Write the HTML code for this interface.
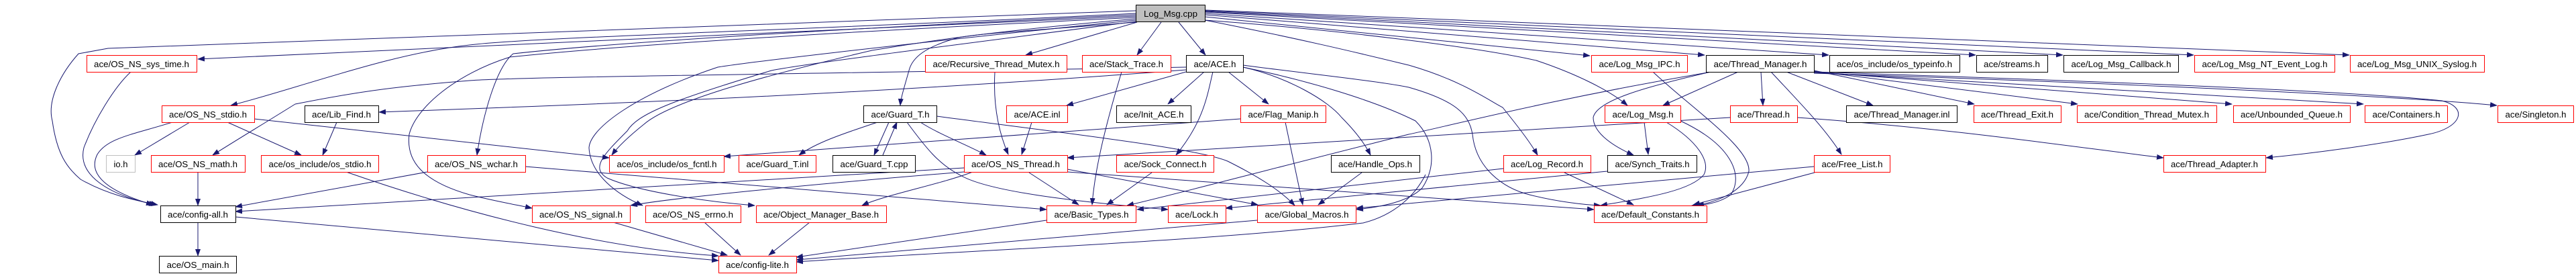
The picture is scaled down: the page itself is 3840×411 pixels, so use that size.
<!DOCTYPE html>
<html><head><meta charset="utf-8"><style>
html,body{margin:0;padding:0;background:#fff;}
svg{display:block;}
text{font-family:"Liberation Sans",sans-serif;font-size:13px;fill:#000;}
</style></head><body>
<svg width="3840" height="411" viewBox="0 0 3840 411" xmlns="http://www.w3.org/2000/svg">
<defs><marker id="a" markerWidth="11" markerHeight="8" refX="10" refY="4" orient="auto" markerUnits="userSpaceOnUse"><path d="M0,0 L11,4 L0,8z" fill="#191970"/></marker></defs>
<g fill="none" stroke="#191970" stroke-width="1" marker-end="url(#a)">
<path d="M1693,24 L295,88"/>
<path d="M1693,16 C1000,40 300,65 161,72 L117,80 C90,110 70,150 78,180 C85,230 100,250 120,267 C160,290 200,298 235,305"/>
<path d="M195,107 C170,130 140,180 125,220 C115,260 160,290 232,305"/>
<path d="M1693,20 C1200,45 800,55 700,67 C580,80 450,130 344,157"/>
<path d="M1768,100 C1200,110 750,115 700,120 C600,128 540,135 440,155 C400,180 350,210 317,231"/>
<path d="M1768,104 C1300,140 900,155 565,167"/>
<path d="M283,182 L201,231"/>
<path d="M257,182 C200,200 160,205 145,230 C130,260 160,285 228,305"/>
<path d="M339,182 L449,231"/>
<path d="M379,177 L908,235"/>
<path d="M502,182 L481,231"/>
<path d="M295,256 L295,306"/>
<path d="M516,256 C700,320 900,370 1071,381"/>
<path d="M637,256 L351,308"/>
<path d="M295,331 L295,381"/>
<path d="M351,323 L1071,388"/>
<path d="M1693,26 C1200,50 900,70 760,85 C680,110 620,160 610,200 C605,240 630,270 700,290 C740,300 770,305 793,310"/>
<path d="M1693,22 C1200,45 900,65 765,80 C740,100 720,170 711,231"/>
<path d="M783,248 L1560,312"/>
<path d="M1693,28 C1500,45 1400,58 1300,75 C1150,110 1000,150 960,185 C935,205 920,220 912,231"/>
<path d="M1693,30 C1300,70 1100,95 1070,100 C950,140 880,190 878,220 C880,260 920,290 958,306"/>
<path d="M1450,256 C1400,275 1320,290 1285,306"/>
<path d="M1693,32 C1400,70 1200,95 1150,105 C1000,150 950,170 935,195 C900,230 880,250 905,265 C950,285 1050,300 1125,306"/>
<path d="M1693,33 C1550,45 1450,50 1425,57 C1380,70 1360,85 1355,105 C1348,130 1343,145 1342,157"/>
<path d="M1308,182 C1270,195 1220,210 1191,231"/>
<path d="M1325,182 L1303,231"/>
<path d="M1316,231 L1337,182"/>
<path d="M1352,182 C1380,220 1400,245 1430,260 C1470,285 1600,300 1741,312"/>
<path d="M1372,182 C1400,200 1440,215 1470,231"/>
<path d="M1396,173 C1600,200 1780,220 1830,240 C1880,265 1910,285 1930,306"/>
<path d="M1849,177 L1079,233"/>
<path d="M1695,33 L1529,82"/>
<path d="M1731,33 L1695,82"/>
<path d="M1757,33 L1797,82"/>
<path d="M1796,25 L2370,83"/>
<path d="M1796,22 L2541,82"/>
<path d="M1796,20 L2726,82"/>
<path d="M1796,18 L2945,82"/>
<path d="M1796,17 L3075,82"/>
<path d="M1796,16 L3270,82"/>
<path d="M1796,15 L3502,82"/>
<path d="M1796,30 C2000,45 2200,70 2290,90 C2350,110 2400,135 2426,157"/>
<path d="M1796,30 C1950,60 2050,85 2100,97 C2180,120 2220,150 2240,160 C2260,185 2280,210 2292,231"/>
<path d="M1853,97 C1950,110 2050,120 2100,130 C2170,150 2190,170 2195,200 C2200,250 2240,280 2280,290 C2320,300 2360,305 2386,306"/>
<path d="M1853,100 C1950,120 2050,150 2110,180 C2140,210 2140,250 2120,280 C2100,300 2060,308 2022,312"/>
<path d="M1853,100 C1920,115 1980,150 2000,175 C2020,195 2035,215 2043,231"/>
<path d="M1768,107 L1590,157"/>
<path d="M1795,107 L1741,155"/>
<path d="M1831,107 L1891,155"/>
<path d="M1808,107 C1800,140 1795,180 1753,231"/>
<path d="M1538,182 L1523,230"/>
<path d="M1483,107 C1480,160 1490,200 1503,230"/>
<path d="M1672,107 C1650,180 1632,250 1628,305"/>
<path d="M1534,257 L1608,305"/>
<path d="M1717,257 L1650,305"/>
<path d="M1591,252 L1875,305"/>
<path d="M1591,256 L2376,312"/>
<path d="M1437,250 L351,315"/>
<path d="M1437,256 C1200,275 1000,295 940,306"/>
<path d="M2396,255 L1827,310"/>
<path d="M2551,107 C2300,150 2150,190 2100,200 C1900,250 1750,290 1680,306"/>
<path d="M2241,251 L1695,312"/>
<path d="M2704,248 L2022,310"/>
<path d="M2484,182 C2530,210 2550,240 2540,260 C2520,285 2450,295 2386,306"/>
<path d="M2505,180 C2580,215 2600,260 2580,290 C2560,305 2530,306 2522,306"/>
<path d="M2464,107 C2520,160 2610,220 2607,255 C2600,285 2560,300 2530,306"/>
<path d="M2451,182 L2457,230"/>
<path d="M2550,107 C2450,130 2380,150 2375,175 C2375,200 2410,220 2435,231"/>
<path d="M2591,107 L2479,157"/>
<path d="M2625,107 L2628,157"/>
<path d="M2640,107 C2680,150 2720,190 2745,230"/>
<path d="M2663,107 L2792,157"/>
<path d="M2704,105 L2943,155"/>
<path d="M2704,106 L3097,155"/>
<path d="M2704,107 L3327,155"/>
<path d="M2704,108 L3523,155"/>
<path d="M2704,109 C3200,125 3600,145 3722,157"/>
<path d="M2704,107 C3100,120 3500,135 3640,150 C3680,160 3670,190 3620,200 C3550,215 3450,228 3378,235"/>
<path d="M2679,175 C2900,190 3100,220 3225,235"/>
<path d="M2579,175 L1591,235"/>
<path d="M2332,257 L2435,305"/>
<path d="M2705,257 L2524,305"/>
<path d="M1916,182 L1942,305"/>
<path d="M2030,257 L1965,305"/>
<path d="M1560,328 L1187,383"/>
<path d="M1874,328 L1187,387"/>
<path d="M2125,260 C2110,290 2080,320 2032,332 C1800,360 1400,375 1187,390"/>
<path d="M914,331 L1084,380"/>
<path d="M1050,331 L1104,380"/>
<path d="M1207,331 L1146,380"/>
</g>
<g stroke-width="1">
<rect x="1693.5" y="7.5" width="103" height="25" fill="#bfbfbf" stroke="#000"/><text x="1745" y="25" text-anchor="middle" textLength="80" lengthAdjust="spacingAndGlyphs">Log_Msg.cpp</text>

<rect x="129.5" y="82.5" width="164" height="25" fill="#fff" stroke="#f00"/><text x="211" y="100" text-anchor="middle" textLength="142" lengthAdjust="spacingAndGlyphs">ace/OS_NS_sys_time.h</text>
<rect x="1379.5" y="82.5" width="211" height="25" fill="#fff" stroke="#f00"/><text x="1485" y="100" text-anchor="middle" textLength="189" lengthAdjust="spacingAndGlyphs">ace/Recursive_Thread_Mutex.h</text>
<rect x="1613.5" y="82.5" width="132" height="25" fill="#fff" stroke="#f00"/><text x="1679" y="100" text-anchor="middle" textLength="110" lengthAdjust="spacingAndGlyphs">ace/Stack_Trace.h</text>
<rect x="1768.5" y="82.5" width="85" height="25" fill="#fff" stroke="#000"/><text x="1811" y="100" text-anchor="middle" textLength="63" lengthAdjust="spacingAndGlyphs">ace/ACE.h</text>
<rect x="2372.5" y="82.5" width="143" height="25" fill="#fff" stroke="#f00"/><text x="2444" y="100" text-anchor="middle" textLength="121" lengthAdjust="spacingAndGlyphs">ace/Log_Msg_IPC.h</text>
<rect x="2543.5" y="82.5" width="161" height="25" fill="#fff" stroke="#000"/><text x="2624" y="100" text-anchor="middle" textLength="139" lengthAdjust="spacingAndGlyphs">ace/Thread_Manager.h</text>
<rect x="2727.5" y="82.5" width="194" height="25" fill="#fff" stroke="#000"/><text x="2824" y="100" text-anchor="middle" textLength="172" lengthAdjust="spacingAndGlyphs">ace/os_include/os_typeinfo.h</text>
<rect x="2946.5" y="82.5" width="106" height="25" fill="#fff" stroke="#000"/><text x="2999" y="100" text-anchor="middle" textLength="84" lengthAdjust="spacingAndGlyphs">ace/streams.h</text>
<rect x="3076.5" y="82.5" width="171" height="25" fill="#fff" stroke="#000"/><text x="3162" y="100" text-anchor="middle" textLength="149" lengthAdjust="spacingAndGlyphs">ace/Log_Msg_Callback.h</text>
<rect x="3271.5" y="82.5" width="209" height="25" fill="#fff" stroke="#f00"/><text x="3376" y="100" text-anchor="middle" textLength="187" lengthAdjust="spacingAndGlyphs">ace/Log_Msg_NT_Event_Log.h</text>
<rect x="3503.5" y="82.5" width="200" height="25" fill="#fff" stroke="#f00"/><text x="3603" y="100" text-anchor="middle" textLength="178" lengthAdjust="spacingAndGlyphs">ace/Log_Msg_UNIX_Syslog.h</text>

<rect x="241.5" y="157.5" width="138" height="25" fill="#fff" stroke="#f00"/><text x="310" y="175" text-anchor="middle" textLength="116" lengthAdjust="spacingAndGlyphs">ace/OS_NS_stdio.h</text>
<rect x="454.5" y="157.5" width="110" height="25" fill="#fff" stroke="#000"/><text x="509" y="175" text-anchor="middle" textLength="88" lengthAdjust="spacingAndGlyphs">ace/Lib_Find.h</text>
<rect x="1287.5" y="157.5" width="109" height="25" fill="#fff" stroke="#000"/><text x="1342" y="175" text-anchor="middle" textLength="87" lengthAdjust="spacingAndGlyphs">ace/Guard_T.h</text>
<rect x="1500.5" y="157.5" width="91" height="25" fill="#fff" stroke="#f00"/><text x="1546" y="175" text-anchor="middle" textLength="69" lengthAdjust="spacingAndGlyphs">ace/ACE.inl</text>
<rect x="1664.5" y="157.5" width="111" height="25" fill="#fff" stroke="#000"/><text x="1720" y="175" text-anchor="middle" textLength="89" lengthAdjust="spacingAndGlyphs">ace/Init_ACE.h</text>
<rect x="1849.5" y="157.5" width="127" height="25" fill="#fff" stroke="#f00"/><text x="1913" y="175" text-anchor="middle" textLength="105" lengthAdjust="spacingAndGlyphs">ace/Flag_Manip.h</text>
<rect x="2392.5" y="157.5" width="113" height="25" fill="#fff" stroke="#f00"/><text x="2449" y="175" text-anchor="middle" textLength="91" lengthAdjust="spacingAndGlyphs">ace/Log_Msg.h</text>
<rect x="2579.5" y="157.5" width="100" height="25" fill="#fff" stroke="#f00"/><text x="2629" y="175" text-anchor="middle" textLength="78" lengthAdjust="spacingAndGlyphs">ace/Thread.h</text>
<rect x="2752.5" y="157.5" width="165" height="25" fill="#fff" stroke="#000"/><text x="2835" y="175" text-anchor="middle" textLength="143" lengthAdjust="spacingAndGlyphs">ace/Thread_Manager.inl</text>
<rect x="2942.5" y="157.5" width="130" height="25" fill="#fff" stroke="#f00"/><text x="3007" y="175" text-anchor="middle" textLength="108" lengthAdjust="spacingAndGlyphs">ace/Thread_Exit.h</text>
<rect x="3096.5" y="157.5" width="208" height="25" fill="#fff" stroke="#f00"/><text x="3200" y="175" text-anchor="middle" textLength="186" lengthAdjust="spacingAndGlyphs">ace/Condition_Thread_Mutex.h</text>
<rect x="3329.5" y="157.5" width="174" height="25" fill="#fff" stroke="#f00"/><text x="3416" y="175" text-anchor="middle" textLength="152" lengthAdjust="spacingAndGlyphs">ace/Unbounded_Queue.h</text>
<rect x="3525.5" y="157.5" width="123" height="25" fill="#fff" stroke="#f00"/><text x="3587" y="175" text-anchor="middle" textLength="101" lengthAdjust="spacingAndGlyphs">ace/Containers.h</text>
<rect x="3723.5" y="157.5" width="113" height="25" fill="#fff" stroke="#f00"/><text x="3780" y="175" text-anchor="middle" textLength="91" lengthAdjust="spacingAndGlyphs">ace/Singleton.h</text>

<rect x="158.5" y="231.5" width="43" height="25" fill="#fff" stroke="#bfbfbf"/><text x="180" y="249" text-anchor="middle" textLength="21" lengthAdjust="spacingAndGlyphs">io.h</text>
<rect x="225.5" y="231.5" width="140" height="25" fill="#fff" stroke="#f00"/><text x="295" y="249" text-anchor="middle" textLength="118" lengthAdjust="spacingAndGlyphs">ace/OS_NS_math.h</text>
<rect x="389.5" y="231.5" width="175" height="25" fill="#fff" stroke="#f00"/><text x="477" y="249" text-anchor="middle" textLength="153" lengthAdjust="spacingAndGlyphs">ace/os_include/os_stdio.h</text>
<rect x="637.5" y="231.5" width="146" height="25" fill="#fff" stroke="#f00"/><text x="710" y="249" text-anchor="middle" textLength="124" lengthAdjust="spacingAndGlyphs">ace/OS_NS_wchar.h</text>
<rect x="908.5" y="231.5" width="171" height="25" fill="#fff" stroke="#f00"/><text x="994" y="249" text-anchor="middle" textLength="149" lengthAdjust="spacingAndGlyphs">ace/os_include/os_fcntl.h</text>
<rect x="1101.5" y="231.5" width="115" height="25" fill="#fff" stroke="#f00"/><text x="1159" y="249" text-anchor="middle" textLength="93" lengthAdjust="spacingAndGlyphs">ace/Guard_T.inl</text>
<rect x="1241.5" y="231.5" width="123" height="25" fill="#fff" stroke="#000"/><text x="1303" y="249" text-anchor="middle" textLength="101" lengthAdjust="spacingAndGlyphs">ace/Guard_T.cpp</text>
<rect x="1437.5" y="231.5" width="154" height="25" fill="#fff" stroke="#f00"/><text x="1514" y="249" text-anchor="middle" textLength="132" lengthAdjust="spacingAndGlyphs">ace/OS_NS_Thread.h</text>
<rect x="1664.5" y="231.5" width="145" height="25" fill="#fff" stroke="#f00"/><text x="1737" y="249" text-anchor="middle" textLength="123" lengthAdjust="spacingAndGlyphs">ace/Sock_Connect.h</text>
<rect x="1984.5" y="231.5" width="132" height="25" fill="#fff" stroke="#000"/><text x="2050" y="249" text-anchor="middle" textLength="110" lengthAdjust="spacingAndGlyphs">ace/Handle_Ops.h</text>
<rect x="2241.5" y="231.5" width="130" height="25" fill="#fff" stroke="#f00"/><text x="2306" y="249" text-anchor="middle" textLength="108" lengthAdjust="spacingAndGlyphs">ace/Log_Record.h</text>
<rect x="2396.5" y="231.5" width="133" height="25" fill="#fff" stroke="#000"/><text x="2463" y="249" text-anchor="middle" textLength="111" lengthAdjust="spacingAndGlyphs">ace/Synch_Traits.h</text>
<rect x="2704.5" y="231.5" width="113" height="25" fill="#fff" stroke="#f00"/><text x="2761" y="249" text-anchor="middle" textLength="91" lengthAdjust="spacingAndGlyphs">ace/Free_List.h</text>
<rect x="3225.5" y="231.5" width="152" height="25" fill="#fff" stroke="#f00"/><text x="3301" y="249" text-anchor="middle" textLength="130" lengthAdjust="spacingAndGlyphs">ace/Thread_Adapter.h</text>

<rect x="239.5" y="306.5" width="112" height="25" fill="#fff" stroke="#000"/><text x="295" y="324" text-anchor="middle" textLength="90" lengthAdjust="spacingAndGlyphs">ace/config-all.h</text>
<rect x="793.5" y="306.5" width="146" height="25" fill="#fff" stroke="#f00"/><text x="866" y="324" text-anchor="middle" textLength="124" lengthAdjust="spacingAndGlyphs">ace/OS_NS_signal.h</text>
<rect x="962.5" y="306.5" width="142" height="25" fill="#fff" stroke="#f00"/><text x="1033" y="324" text-anchor="middle" textLength="120" lengthAdjust="spacingAndGlyphs">ace/OS_NS_errno.h</text>
<rect x="1127.5" y="306.5" width="194" height="25" fill="#fff" stroke="#f00"/><text x="1224" y="324" text-anchor="middle" textLength="172" lengthAdjust="spacingAndGlyphs">ace/Object_Manager_Base.h</text>
<rect x="1560.5" y="306.5" width="133" height="25" fill="#fff" stroke="#f00"/><text x="1627" y="324" text-anchor="middle" textLength="111" lengthAdjust="spacingAndGlyphs">ace/Basic_Types.h</text>
<rect x="1741.5" y="306.5" width="86" height="25" fill="#fff" stroke="#f00"/><text x="1784" y="324" text-anchor="middle" textLength="64" lengthAdjust="spacingAndGlyphs">ace/Lock.h</text>
<rect x="1874.5" y="306.5" width="147" height="25" fill="#fff" stroke="#f00"/><text x="1948" y="324" text-anchor="middle" textLength="125" lengthAdjust="spacingAndGlyphs">ace/Global_Macros.h</text>
<rect x="2376.5" y="306.5" width="168" height="25" fill="#fff" stroke="#f00"/><text x="2460" y="324" text-anchor="middle" textLength="146" lengthAdjust="spacingAndGlyphs">ace/Default_Constants.h</text>

<rect x="237.5" y="381.5" width="115" height="25" fill="#fff" stroke="#000"/><text x="295" y="399" text-anchor="middle" textLength="93" lengthAdjust="spacingAndGlyphs">ace/OS_main.h</text>
<rect x="1071.5" y="381.5" width="116" height="25" fill="#fff" stroke="#f00"/><text x="1129" y="399" text-anchor="middle" textLength="94" lengthAdjust="spacingAndGlyphs">ace/config-lite.h</text>
</g>
</svg>
</body></html>
